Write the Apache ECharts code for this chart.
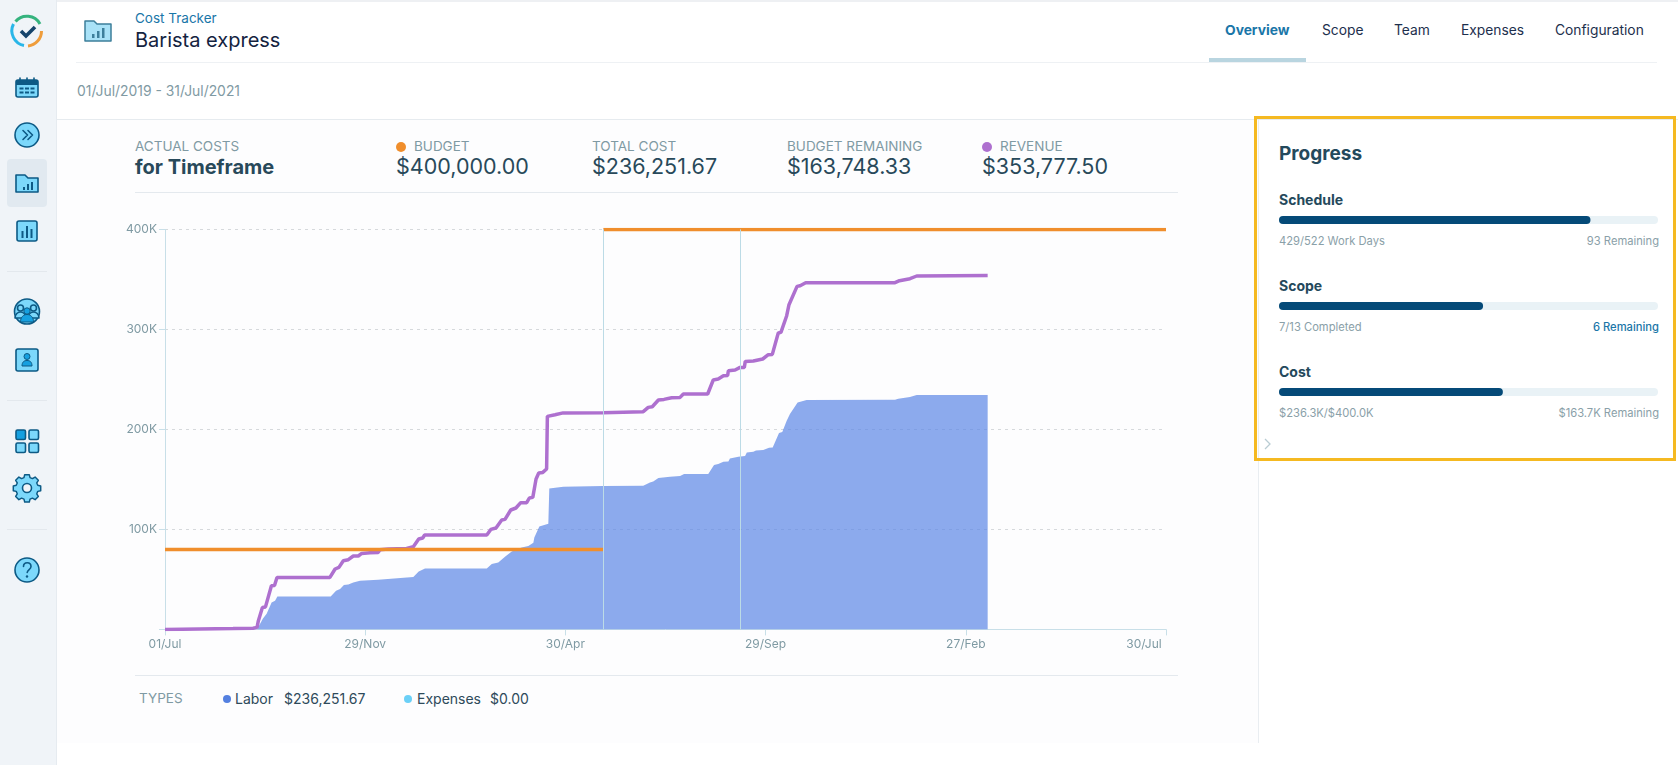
<!DOCTYPE html>
<html>
<head>
<meta charset="utf-8">
<script src="https://cdn.jsdelivr.net/npm/echarts@6/dist/echarts.min.js"></script>
<style>
html,body{margin:0;padding:0;width:1678px;height:765px;overflow:hidden;background:#fff;font-family:Inter,"Noto Sans",sans-serif;}
.t{position:absolute;white-space:nowrap;line-height:1;transform:translateY(calc(-50% + 1px));}
.box{position:absolute;}
.ic{position:absolute;overflow:visible;}
.lbl{font-size:13.5px;color:#7f9aa3;}
.val{font-size:21.5px;color:#28495a;}
.tab{font-size:13.8px;color:#1d2f4d;top:30px;}
.ph{font-size:14px;font-weight:700;color:#24495c;left:1279px;}
.pl{font-size:11.2px;color:#8aa0a8;left:1279px;}
.pr{font-size:11.2px;color:#8aa0a8;right:19px;}
.dot{position:absolute;border-radius:50%;width:10px;height:10px;transform:translateY(calc(-50% + 1px));}
#main{position:absolute;left:0;top:0;width:1678px;height:765px;}
svg .s{fill:#7cd8fb;stroke:#0d5a85;stroke-width:1.6;stroke-linejoin:round;}
svg .d{fill:#0d5a85;stroke:none;}
svg .w{fill:none;stroke:#0d5a85;stroke-width:1.6;stroke-linecap:round;stroke-linejoin:round;}
</style>
</head>
<body>
<!-- page chrome -->
<div class="box" style="left:0;top:0;width:1678px;height:2px;background:#eef0f3"></div>
<div class="box" style="left:0;top:0;width:56px;height:765px;background:#f0f4f8;border-right:1px solid #e6ebf0"></div>
<div class="box" style="left:7px;top:159px;width:40px;height:48px;background:#e1e9f0;border-radius:4px"></div>
<div class="box" style="left:7px;top:271px;width:40px;height:1px;background:#e3e8ed"></div>
<div class="box" style="left:7px;top:400px;width:40px;height:1px;background:#e3e8ed"></div>
<div class="box" style="left:7px;top:529px;width:40px;height:1px;background:#e3e8ed"></div>
<div class="box" style="left:76px;top:62px;width:1581px;height:1px;background:#eef1f4"></div>
<div class="box" style="left:1209px;top:58px;width:97px;height:4px;background:#b9d5e0"></div>
<div class="box" style="left:57px;top:119px;width:1621px;height:1px;background:#e6ebef"></div>
<div class="box" style="left:57px;top:120px;width:1201px;height:623px;background:#fdfdfe"></div>
<div class="box" style="left:1258px;top:120px;width:1px;height:623px;background:#e9edf1"></div>
<div class="box" style="left:135px;top:192px;width:1043px;height:1px;background:#e4e9ee"></div>
<div class="box" style="left:135px;top:675px;width:1043px;height:1px;background:#e4e9ee"></div>
<div class="box" style="left:1254px;top:116px;width:416px;height:339px;border:3px solid #f5b921"></div>

<!-- sidebar icons -->
<svg class="ic" style="left:0;top:0" width="56" height="600" viewBox="0 0 56 600">
  <g fill="none" stroke-width="3">
    <path d="M15.500 21.500A15 15 0 0 1 40 24" stroke="#35b37e"/>
    <path d="M41.500 31A15 15 0 0 1 28 46" stroke="#ef9d3c"/>
    <path d="M24 45.500A15 15 0 0 1 13.500 24" stroke="#29b6e8"/>
  </g>
  <path d="M21 31l5 5 9-9" fill="none" stroke="#15446b" stroke-width="3.600"/>
  <rect class="s" x="16" y="80" width="22" height="17" rx="2"/>
  <path class="d" d="M16 80h22v5H16z"/>
  <path class="w" d="M20 78v3M27 78v3M34 78v3"/>
  <path class="d" d="M19.500 87.500h4v2h-4zM25 87.500h4v2h-4zM30.500 87.500h4v2h-4zM19.500 91.500h4v2h-4zM25 91.500h4v2h-4zM30.500 91.500h4v2h-4z"/>
  <circle class="s" cx="27" cy="135" r="12"/>
  <path class="w" d="M23 130.500l4.500 4.500-4.500 4.500M28 130.500l4.500 4.500-4.500 4.500"/>
  <path class="s" d="M16 175h9l3 3h10v14H16z"/>
  <path class="d" d="M23 187h2v3h-2zM27 184h2v6h-2zM31 182h2v8h-2z"/>
  <rect class="s" x="17" y="221" width="20" height="20" rx="2"/>
  <path class="d" d="M21.500 231h2v7h-2zM26 226h2v12h-2zM30.500 229h2v9h-2z"/>
  <circle class="s" cx="27" cy="311.500" r="12.500"/>
  <circle class="s" cx="20.500" cy="308" r="3"/><circle class="s" cx="33.500" cy="308" r="3"/>
  <path class="s" d="M15 318c0-4 3-6 5.500-6s5.500 2 5.500 6zM28 318c0-4 3-6 5.500-6s5.500 2 5.500 6z"/>
  <circle cx="27" cy="311" r="3.200" fill="#16a0e0" stroke="#0d5a85"/>
  <path d="M20.500 322c0-5 3-7.500 6.500-7.500s6.500 2.500 6.500 7.500z" fill="#16a0e0" stroke="#0d5a85"/>
  <rect class="s" x="16" y="349" width="22" height="22" rx="2"/>
  <circle cx="27" cy="356.500" r="3" fill="#16a0e0" stroke="#0d5a85"/>
  <path d="M22 366c0-4 2-5.500 5-5.500s5 1.500 5 5.500z" fill="#16a0e0" stroke="#0d5a85"/>
  <rect x="16" y="430" width="9.500" height="9.500" rx="1.500" fill="#16a0e0" stroke="#0d5a85" stroke-width="1.600"/>
  <rect class="s" x="29" y="430" width="9.500" height="9.500" rx="1.500"/>
  <rect class="s" x="16" y="443" width="9.500" height="9.500" rx="1.500"/>
  <rect class="s" x="29" y="443" width="9.500" height="9.500" rx="1.500"/>
  <path class="s" d="M24.500 476.500h5l.8 3.200 2.600 1.100 2.900-1.700 3.500 3.500-1.700 2.900 1.100 2.600 3.200.8v5l-3.200.8-1.100 2.600 1.700 2.900-3.500 3.500-2.900-1.700-2.600 1.100-.8 3.200h-5l-.8-3.200-2.600-1.100-2.900 1.700-3.500-3.500 1.700-2.900-1.100-2.600-3.200-.8v-5l3.200-.8 1.100-2.600-1.700-2.900 3.500-3.500 2.900 1.700 2.600-1.100z" transform="translate(0 -3) translate(27 491) scale(.92) translate(-27 -491)"/>
  <circle cx="27" cy="488" r="4.500" fill="#f0f4f8" stroke="#0d5a85" stroke-width="1.600"/>
  <circle class="s" cx="27" cy="570" r="12"/>
  <path class="w" d="M23.500 566.500c0-5 7.500-5 7.500 0 0 3-3.500 3-3.800 6"/>
  <circle class="d" cx="27" cy="576.500" r="1.200"/>
</svg>

<!-- header -->
<svg class="ic" style="left:84px;top:19px" width="28" height="24" viewBox="0 0 28 24">
  <path d="M1 2h9l3 3h14v17H1z" fill="#a9e2f7" stroke="#3d7f9b" stroke-width="1.500" stroke-linejoin="round"/>
  <path d="M8 15h2.500v4H8zM13 12h2.500v7H13zM18 9h2.500v10H18z" fill="#3d7f9b"/>
</svg>
<div class="t" style="left:135px;top:18px;font-size:13.5px;color:#1a76a8">Cost Tracker</div>
<div class="t" style="left:135px;top:39px;font-size:20px;color:#14233f">Barista express</div>
<div class="t tab" style="left:1225px;font-weight:700;color:#1a76a8">Overview</div>
<div class="t tab" style="left:1322px">Scope</div>
<div class="t tab" style="left:1394px">Team</div>
<div class="t tab" style="left:1461px">Expenses</div>
<div class="t tab" style="left:1555px">Configuration</div>
<div class="t" style="left:77px;top:91px;font-size:13.9px;color:#7f9aa3">01/Jul/2019 - 31/Jul/2021</div>

<!-- totals row -->
<div class="t lbl" style="left:135px;top:146px">ACTUAL COSTS</div>
<div class="t" style="left:135px;top:166px;font-size:20px;font-weight:700;color:#28495a">for Timeframe</div>
<div class="dot" style="left:396px;top:146px;background:#f08e2c"></div>
<div class="t lbl" style="left:414px;top:146px">BUDGET</div>
<div class="t val" style="left:396px;top:166px">$400,000.00</div>
<div class="t lbl" style="left:592px;top:146px">TOTAL COST</div>
<div class="t val" style="left:592px;top:166px">$236,251.67</div>
<div class="t lbl" style="left:787px;top:146px">BUDGET REMAINING</div>
<div class="t val" style="left:787px;top:166px">$163,748.33</div>
<div class="dot" style="left:982px;top:146px;background:#ae70cf"></div>
<div class="t lbl" style="left:1000px;top:146px">REVENUE</div>
<div class="t val" style="left:982px;top:166px">$353,777.50</div>

<!-- types row -->
<div class="t lbl" style="left:139px;top:698px">TYPES</div>
<div class="dot" style="left:223px;top:698px;width:8px;height:8px;background:#5480e0"></div>
<div class="t" style="left:235px;top:698px;font-size:14px;color:#2e4a5a">Labor</div>
<div class="t" style="left:284px;top:698px;font-size:14px;color:#2e4a5a">$236,251.67</div>
<div class="dot" style="left:404px;top:698px;width:8px;height:8px;background:#6bd0f7"></div>
<div class="t" style="left:417px;top:698px;font-size:14px;color:#2e4a5a">Expenses</div>
<div class="t" style="left:490px;top:698px;font-size:14px;color:#2e4a5a">$0.00</div>

<!-- progress panel -->
<div class="t" style="left:1279px;top:152px;font-size:19px;font-weight:700;color:#24495c">Progress</div>
<div class="t ph" style="top:199px">Schedule</div>
<div class="t pl" style="top:241px">429/522 Work Days</div>
<div class="t pr" style="top:241px">93 Remaining</div>
<div class="t ph" style="top:284.500px">Scope</div>
<div class="t pl" style="top:327px">7/13 Completed</div>
<div class="t pr" style="top:327px;color:#1a76a8;font-weight:500">6 Remaining</div>
<div class="t ph" style="top:370.500px">Cost</div>
<div class="t pl" style="top:412.500px">$236.3K/$400.0K</div>
<div class="t pr" style="top:412.500px">$163.7K Remaining</div>
<svg class="ic" style="left:1264px;top:438px" width="8" height="12" viewBox="0 0 8 12">
  <path d="M1 1l5 5-5 5" fill="none" stroke="#b9ccd3" stroke-width="1.300"/>
</svg>

<div id="main"></div>

<script>
// x positions are work days since 01/Jul/2019, values are in thousands of dollars
var totalWorkDays = 522;
var dateLabels = ['01/Jul', '29/Nov', '30/Apr', '29/Sep', '27/Feb', '30/Jul'];
var markerDays = [228.6, 300.2];

var budgetDays = [0, 228.6, 228.6, 228.6, 522];
var budgetK = [80, 80, null, 400, 400];

var costDays = [48, 51, 53, 55.6, 57.4, 58.6, 86.4, 89.2, 91.3, 93.3, 95.6, 98.2, 101.7, 111.2, 112.1, 129.5, 132.3, 135.6, 167.8, 170.4, 173.8, 177.3, 180.8, 186, 189.5, 192.1, 192.6, 195.2, 199.9, 200.4, 207.7, 228.6, 249.4, 252.9, 254.6, 257.3, 263.4, 268.6, 270.7, 283.3, 286.3, 288.5, 291.2, 293.8, 294.6, 299, 302.5, 303.4, 306.8, 308.2, 312, 315, 316.9, 320.2, 321.9, 324.2, 325.9, 329.9, 334.6, 380.7, 382.4, 388.5, 392, 429];
var costK = [0, 10.7, 15.7, 27, 28.7, 33, 33, 38.7, 40.4, 44.4, 45, 47, 48.7, 49.7, 51.4, 52.4, 58, 61, 61, 65.4, 67, 72.7, 78, 82, 83.4, 86.7, 92, 103, 105.7, 141, 142.7, 143.4, 143.7, 147, 148, 151.4, 152.7, 153.4, 155.4, 155.4, 164.4, 165.4, 167.7, 168, 171, 172.7, 173.4, 177, 177.7, 179, 179.4, 181.7, 182, 196.4, 197.4, 208.7, 215.4, 227, 229.4, 229.7, 230.7, 232.4, 234.4, 234.4];

var revenueDays = [0, 35.5, 45.9, 48, 48.7, 50.8, 52.4, 55.5, 57.1, 58.4, 86, 88.7, 90.7, 93, 95.6, 98.2, 100.8, 102.6, 106.9, 111.2, 112.1, 116.5, 126, 129.5, 132.3, 134.4, 135.4, 167.8, 169.9, 172.6, 175.6, 177.3, 180.3, 183, 185.5, 188.6, 190, 191.8, 193.5, 194.9, 197, 199, 199.4, 203.4, 207.6, 228.4, 249.4, 252, 254.1, 257.3, 260.2, 264.2, 268.6, 270.3, 283, 285.9, 288.5, 291.2, 293.4, 293.8, 297.3, 299.9, 302.1, 302.6, 306.8, 307.7, 311.7, 314.6, 316.7, 319.8, 321.2, 324.2, 325.4, 326.3, 329.6, 331.2, 334.1, 380.7, 383, 388.5, 392, 429];
var revenueK = [0, 0.8, 1.2, 2, 8.7, 22, 22.5, 43.7, 44, 52, 52, 60.4, 62, 68.7, 69.7, 73.4, 73.4, 76, 76.7, 77, 79.7, 80.4, 81, 82.7, 90.4, 91.4, 94.4, 94.4, 100, 101.4, 109.4, 110, 119.4, 121.4, 126.7, 126.7, 131.4, 132, 150.4, 156.4, 157, 160.4, 213, 214.7, 216.5, 216.7, 217.7, 222, 222.7, 229.4, 230, 231.7, 232, 235.4, 235.4, 249.4, 250.4, 253.7, 254, 258.7, 259.4, 262, 262, 268, 268.4, 270.4, 270.4, 274.7, 275, 296.4, 297, 313.7, 324.7, 325.4, 343, 343.7, 346.7, 346.7, 348.7, 350.7, 353.4, 353.8];

var progressNames = ['Schedule', 'Scope', 'Cost'];
var progressDone = [429, 7, 236.3];
var progressTotal = [522, 13, 400];

function zip(xs, ys) {
	return xs.map(function (x, i) { return [x, ys[i]]; });
}

var chart = echarts.init(document.getElementById('main'));
var tickStep = totalWorkDays / (dateLabels.length - 1);
var axisColor = '#c8dfe8';
var labelColor = '#7f9aa3';

var option = {
	animation: false,
	textStyle: { fontFamily: 'Inter' },
	grid: [
		{ left: 165, top: 229.4, width: 1001, height: 400 },
		{ left: 1279, top: 216, width: 379, height: 8 },
		{ left: 1279, top: 302, width: 379, height: 8 },
		{ left: 1279, top: 388, width: 379, height: 8 }
	],
	xAxis: [
		{
			type: 'value',
			min: 0,
			max: totalWorkDays,
			interval: tickStep,
			splitLine: { show: false },
			axisLine: { show: true, lineStyle: { color: axisColor, width: 1 } },
			axisTick: { show: true, length: 6, lineStyle: { color: axisColor } },
			axisLabel: {
				color: labelColor,
				fontSize: 12,
				margin: 9,
				formatter: function (v) {
					var i = Math.round(v / tickStep);
					return i === dateLabels.length - 1 ? '{last|' + dateLabels[i] + '}' : dateLabels[i];
				},
				rich: { last: { color: labelColor, fontSize: 12, padding: [0, 44, 0, 0] } }
			}
		}
	].concat(progressTotal.map(function (total, i) {
		return { type: 'value', gridIndex: i + 1, min: 0, max: total, show: false };
	})),
	yAxis: [
		{
			type: 'value',
			min: 0,
			max: 400,
			interval: 100,
			axisLine: { show: true, lineStyle: { color: axisColor, width: 1 } },
			axisTick: { show: true, length: 6, lineStyle: { color: axisColor } },
			splitLine: { lineStyle: { color: '#d6d9dc', type: [3, 4], width: 1 } },
			axisLabel: {
				color: labelColor,
				fontSize: 12,
				margin: 8,
				formatter: function (v) { return v === 0 ? '' : v + 'K'; }
			}
		}
	].concat(progressNames.map(function (name, i) {
		return { type: 'category', gridIndex: i + 1, data: [name], show: false };
	})),
	series: [
		{
			name: 'Labor',
			type: 'line',
			data: zip(costDays, costK),
			symbol: 'none',
			lineStyle: { width: 0 },
			itemStyle: { color: '#5b86e5' },
			areaStyle: { color: '#5b86e5', opacity: 0.7 },
			z: 2,
			markLine: {
				silent: true,
				symbol: 'none',
				label: { show: false },
				lineStyle: { color: '#bcdbe6', width: 1, type: 'solid' },
				data: markerDays.map(function (d) { return { xAxis: d }; })
			}
		},
		{
			name: 'Revenue',
			type: 'line',
			data: zip(revenueDays, revenueK),
			symbol: 'none',
			lineStyle: { color: '#ae70cf', width: 3.5 },
			z: 3
		},
		{
			name: 'Budget',
			type: 'line',
			data: zip(budgetDays, budgetK),
			symbol: 'none',
			connectNulls: false,
			lineStyle: { color: '#f08e2c', width: 3.5 },
			z: 4
		}
	].concat(progressDone.map(function (done, i) {
		return {
			type: 'bar',
			xAxisIndex: i + 1,
			yAxisIndex: i + 1,
			data: [done],
			barWidth: 8,
			showBackground: true,
			backgroundStyle: { color: '#e9f2f6', borderRadius: 4 },
			itemStyle: { color: '#054a78', borderRadius: 4 }
		};
	}))
};

chart.setOption(option);
</script>
</body>
</html>
